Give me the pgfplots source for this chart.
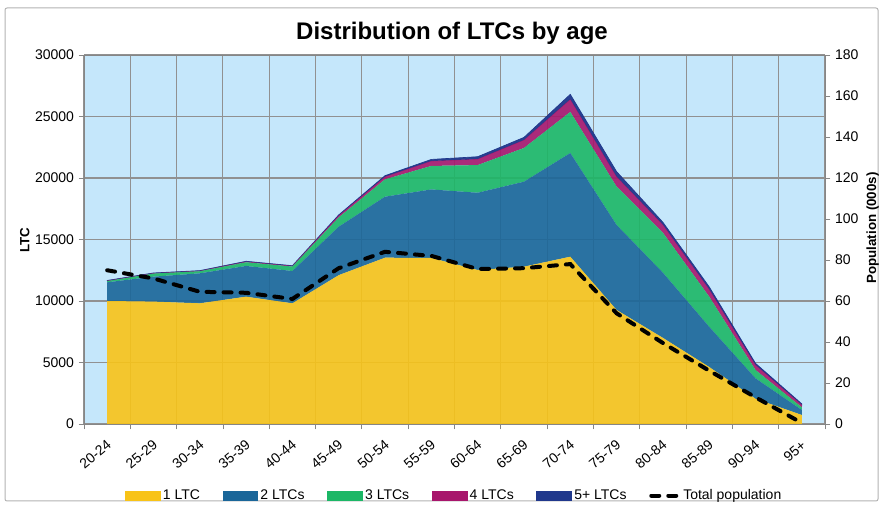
\documentclass[border=0pt]{standalone}
\usepackage{pgfplots}
\pgfplotsset{compat=1.18}
\usepackage{pgfplotstable}
\usepackage{fontspec}
\setmainfont{Liberation Sans}
\definecolor{bgblue}{RGB}{197,231,251}
\definecolor{ltcyellow}{RGB}{248,195,24}
\definecolor{ltcblue}{RGB}{26,102,153}
\definecolor{ltcgreen}{RGB}{28,183,102}
\definecolor{ltcmag}{RGB}{168,22,108}
\definecolor{ltcnavy}{RGB}{32,56,140}
\definecolor{gridgray}{RGB}{145,145,145}
\definecolor{axisgray}{RGB}{134,134,134}
\pgfplotsset{poplegend/.style={legend image code/.code={\draw[##1] (1.5pt,0pt) -- (22pt,0pt);}}}

\pgfplotstableread{
x one two three four five pop
0  10000 1520  100  30  20 75
1   9950 2030  250  30  20 71
2   9810 2440  170  30  20 64.5
3  10350 2500  300  50  30 64
4   9810 2630  360  50  20 61
5  12100 3940  760 150  50 76
6  13520 4960 1410 220  80 84
7  13500 5570 1910 400 130 82
8  12520 6280 2250 490 190 75.6
9  12790 6910 2740 650 210 76
10 13600 8430 3340 1030 400 78
11  9270 6910 3120 810 410 54
12  7000 5300 3250 650 200 39.5
13  4630 3270 2450 600 200 26
14  2050 1660  680 410 130 13
15   730  410  210 210  70 0.5
}\data

\begin{document}
\begin{tikzpicture}
\path[use as bounding box] (0pt,0pt) rectangle (663pt,379.5pt);
\draw[gray!60, line width=0.75pt, rounded corners=1.5pt] (3.75pt,3.75pt) rectangle (658.5pt,373.5pt);
\node[font=\bfseries\fontsize{18}{21}\selectfont] at (339pt,354.5pt) {Distribution of LTCs by age};
\node[rotate=90, font=\bfseries\fontsize{10}{12}\selectfont] at (18.5pt,199.5pt) {LTC};
\node[rotate=90, font=\bfseries\fontsize{10}{12}\selectfont] at (654.5pt,208.5pt) {Population (000s)};

\begin{axis}[
  at={(63pt,61.5pt)}, anchor=south west, scale only axis,
  width=555.75pt, height=276.75pt,
  xmin=-0.5, xmax=15.5, ymin=0, ymax=30000,
  axis background/.style={fill=bgblue},
  axis line style={draw=axisgray, line width=0.6pt},
  xtick={-0.5,0.5,...,15.5}, xticklabels={},
  extra x ticks={0,1,...,15},
  extra x tick labels={20-24,25-29,30-34,35-39,40-44,45-49,50-54,55-59,60-64,65-69,70-74,75-79,80-84,85-89,90-94,95+},
  extra x tick style={grid=none, major tick length=0pt,
     tick label style={rotate=40, anchor=north east, inner sep=1pt, xshift=-7pt, yshift=-7pt}},
  xmajorgrids, ymajorgrids,
  ytick={0,5000,...,30000},
  xtick pos=bottom, ytick pos=left,
  tick align=outside, major tick length=4pt,
  tick style={axisgray, line width=0.6pt},
  grid style={gridgray, line width=0.8pt},
  scaled y ticks=false,
  yticklabel style={/pgf/number format/.cd, fixed, set thousands separator={}},
  ticklabel style={font=\fontsize{10.5}{12}\selectfont},
  /pgf/number format/assume math mode=true,
  stack plots=y,
]
\addplot[fill=ltcyellow, draw=none, fill opacity=0.9] table[x=x,y=one]{\data} \closedcycle;
\addplot[fill=ltcblue, draw=none, fill opacity=0.9] table[x=x,y=two]{\data} \closedcycle;
\addplot[fill=ltcgreen, draw=none, fill opacity=0.9] table[x=x,y=three]{\data} \closedcycle;
\addplot[fill=ltcmag, draw=none, fill opacity=0.9] table[x=x,y=four]{\data} \closedcycle;
\addplot[fill=ltcnavy, draw=ltcnavy, line width=0.5pt, fill opacity=0.95] table[x=x,y=five]{\data} \closedcycle;
\end{axis}

\begin{axis}[
  at={(63pt,61.5pt)}, anchor=south west, scale only axis,
  width=555.75pt, height=276.75pt,
  xmin=-0.5, xmax=15.5, ymin=0, ymax=180,
  axis y line*=right, axis x line=none,
  axis line style={draw=axisgray, line width=0.6pt},
  ytick={0,20,...,180},
  tick align=outside, major tick length=4pt,
  tick style={axisgray, line width=0.6pt},
  ticklabel style={font=\fontsize{10.5}{12}\selectfont},
  /pgf/number format/assume math mode=true,
  legend columns=6,
  legend style={at={(0.5,-0.194)}, anchor=center, draw=none, fill=none,
    font=\fontsize{10.5}{12}\selectfont,
    /tikz/every even column/.append style={column sep=15pt}},
]
\addlegendimage{legend image code/.code={\fill[ltcyellow] (0pt,-3.4pt) rectangle (26pt,3.4pt);}}
\addlegendentry{1 LTC}
\addlegendimage{legend image code/.code={\fill[ltcblue] (0pt,-3.4pt) rectangle (26pt,3.4pt);}}
\addlegendentry{2 LTCs}
\addlegendimage{legend image code/.code={\fill[ltcgreen] (0pt,-3.4pt) rectangle (26pt,3.4pt);}}
\addlegendentry{3 LTCs}
\addlegendimage{legend image code/.code={\fill[ltcmag] (0pt,-3.4pt) rectangle (26pt,3.4pt);}}
\addlegendentry{4 LTCs}
\addlegendimage{legend image code/.code={\fill[ltcnavy] (0pt,-3.4pt) rectangle (26pt,3.4pt);}}
\addlegendentry{5+ LTCs}
\addplot[black, line width=3pt, dash pattern=on 6pt off 6.75pt, line cap=round, poplegend] table[x=x,y=pop]{\data};
\addlegendentry{Total population}
\end{axis}
\end{tikzpicture}
\end{document}
